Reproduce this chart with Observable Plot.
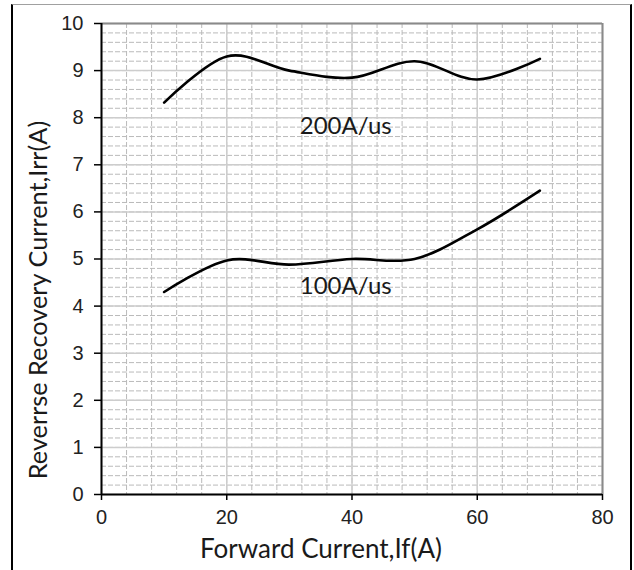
<!DOCTYPE html>
<html>
<head>
<meta charset="utf-8">
<script src="https://cdn.jsdelivr.net/npm/d3@7"></script>
<script src="https://cdn.jsdelivr.net/npm/@observablehq/plot@0.6"></script>
<style>
  html, body { margin: 0; padding: 0; background: #fff; }
  #wrap { position: relative; width: 634px; height: 570px; overflow: hidden; }
  #border { position: absolute; left: 11px; top: 4px; width: 617px; height: 600px;
            border-left: 2px solid #000; border-right: 2px solid #000; border-top: 1px solid #a0a0a0; pointer-events: none; }
  #ytitle { position: absolute; left: -163px; top: 285px; width: 400px; height: 30px; line-height: 30px;
            text-align: center; transform: rotate(-90deg); transform-origin: 50% 50%;
            font-family: Lato, 'Open Sans', sans-serif; font-size: 25.3px; color: #1a1a1a; white-space: nowrap; }
</style>
</head>
<body>
<div id="wrap"><div id="border"></div><div id="ytitle"></div></div>
<script>
// Data
const forwardCurrent = [10, 20, 30, 40, 50, 60, 70];
const irr100 = [4.30, 4.97, 4.88, 5.00, 5.00, 5.63, 6.45];
const irr200 = [8.32, 9.30, 9.00, 8.85, 9.20, 8.81, 9.25];

const curveLabels = ["200A/us", "100A/us"];
const curveLabelX = [39.0, 39.0];
const curveLabelY = [7.82, 4.43];

const xTicks = [0, 20, 40, 60, 80];
const yTicks = [0, 1, 2, 3, 4, 5, 6, 7, 8, 9, 10];
const xMinor = d3.range(0, 80.001, 4);
const yMinor = d3.range(0, 10.001, 0.2);

const xTitle = "Forward Current,If(A)";
const yTitle = "Reverrse Recovery Current,Irr(A)";

const titleFont = "Lato, 'Open Sans', sans-serif";

document.getElementById("ytitle").textContent = yTitle;

const chart = Plot.plot({
  width: 634,
  height: 570,
  marginLeft: 101,
  marginRight: 32,
  marginTop: 23,
  marginBottom: 76,
  x: {domain: [0, 80]},
  y: {domain: [0, 10]},
  style: {fontFamily: "'Liberation Sans', Arial, sans-serif", fontSize: "20px", color: "#222", background: "transparent", overflow: "visible"},
  marks: [
    Plot.ruleX(xMinor, {stroke: "#bababa", strokeWidth: 1, strokeDasharray: "5,2"}),
    Plot.ruleY(yMinor, {stroke: "#bababa", strokeWidth: 1, strokeDasharray: "5,2"}),
    Plot.ruleX(xTicks, {stroke: "#cdcdcd", strokeWidth: 1.5}),
    Plot.ruleY(yTicks, {stroke: "#cdcdcd", strokeWidth: 1.5}),
    Plot.ruleX([80], {stroke: "#8a8a8a", strokeWidth: 2}),
    Plot.ruleY([10], {stroke: "#8a8a8a", strokeWidth: 2}),
    Plot.axisX(xTicks, {anchor: "bottom", tickSize: 6, tickPadding: 9, label: null, stroke: "#000", strokeWidth: 1.5}),
    Plot.axisY(yTicks, {anchor: "left", tickSize: 7, tickPadding: 11, label: null, stroke: "#000", strokeWidth: 1.5}),
    Plot.ruleX([0], {stroke: "#000", strokeWidth: 2}),
    Plot.ruleY([0], {stroke: "#000", strokeWidth: 2}),
    Plot.line(irr200, {x: forwardCurrent, y: irr200, curve: "catmull-rom", tension: 0, stroke: "#000", strokeWidth: 2.6}),
    Plot.line(irr100, {x: forwardCurrent, y: irr100, curve: "catmull-rom", tension: 0, stroke: "#000", strokeWidth: 2.6}),
    Plot.text(curveLabels, {x: curveLabelX, y: curveLabelY, text: d => d, fontFamily: titleFont, fontSize: 24, fill: "#1a1a1a"}),
    Plot.text([xTitle], {frameAnchor: "bottom", text: d => d, dx: -31, dy: 63, lineAnchor: "bottom", fontFamily: titleFont, fontSize: 26, fill: "#1a1a1a"})
  ]
});
document.getElementById("wrap").prepend(chart);
</script>
</body>
</html>
